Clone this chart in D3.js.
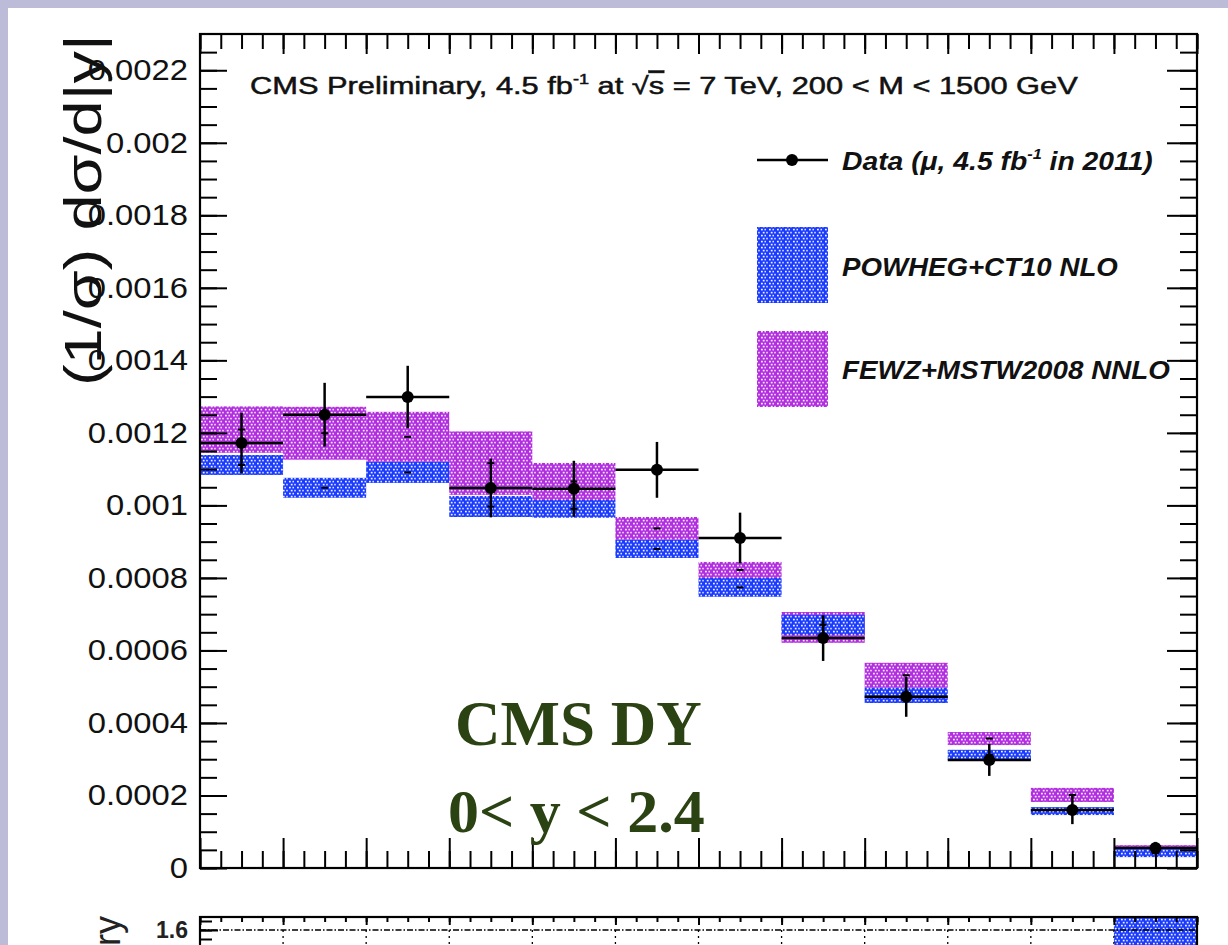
<!DOCTYPE html>
<html>
<head>
<meta charset="utf-8">
<title>CMS DY normalised rapidity distribution</title>
<script src="https://d3js.org/d3.v7.min.js"></script>
<style>
  body { margin: 0; background: #bcbcd8; }
  svg { display: block; }
</style>
</head>
<body>
<div id="chart"></div>
<script>
// bins in |y|
var binEdges = [0, 0.2, 0.4, 0.6, 0.8, 1.0, 1.2, 1.4, 1.6, 1.8, 2.0, 2.2, 2.4];

// data (muons, 4.5 fb-1)
var dataVal = [0.001172, 0.00125, 0.001299, 0.001048, 0.001046, 0.001098, 0.00091, 0.000634, 0.000472, 0.000298, 0.00016, 0.000055];
var dataErr = [0.000083, 0.000088, 0.000086, 0.000081, 0.000077, 0.000077, 0.00007, 0.000063, 0.000055, 0.000044, 0.000039, 0.000017];

// FEWZ+MSTW2008 NNLO band
var fewzHigh = [0.001273, 0.001272, 0.001258, 0.001204, 0.001117, 0.000968, 0.000844, 0.000706, 0.000566, 0.000375, 0.000221, 0.000063];
var fewzLow  = [0.001145, 0.001126, 0.00112, 0.001029, 0.001015, 0.000905, 0.0008, 0.000621, 0.000497, 0.000339, 0.000182, 0.000052];

// POWHEG+CT10 NLO band
var powhegHigh = [0.001139, 0.001076, 0.00112, 0.001026, 0.001015, 0.000905, 0.0008, 0.000698, 0.000497, 0.000326, 0.000168, 0.000052];
var powhegLow  = [0.001084, 0.001021, 0.001062, 0.000968, 0.000966, 0.000855, 0.000748, 0.000643, 0.000455, 0.000298, 0.000146, 0.00003];

var yTicks = [0, 0.0002, 0.0004, 0.0006, 0.0008, 0.001, 0.0012, 0.0014, 0.0016, 0.0018, 0.002, 0.0022];
var yTickLabels = ["0", "0.0002", "0.0004", "0.0006", "0.0008", "0.001", "0.0012", "0.0014", "0.0016", "0.0018", "0.002", "0.0022"];

// ratio panel (only its top edge is in view)
var ratioTicks = [1.6];
var ratioTickLabels = ["1.6"];
var ratioBin = [11];
var ratioLow = [1.2];
var ratioHigh = [2.0];

var BLUE = "#1b3bff", PURPLE = "#b22fe0", GREEN = "#2b4212";
var SANS = "'Liberation Sans', Arial, sans-serif";
var SERIF = "'Liberation Serif', 'Times New Roman', serif";

var width = 1228, height = 945;
var svg = d3.select("#chart").append("svg")
    .attr("width", width)
    .attr("height", height)
    .style("font-family", SANS);

// dotted fills, roughly like the ROOT 3xxx styles
var defs = svg.append("defs");
function makePattern(id, color) {
  var p = defs.append("pattern").attr("id", id)
      .attr("patternUnits", "userSpaceOnUse")
      .attr("width", 8).attr("height", 6);
  p.append("rect").attr("width", 8).attr("height", 6).attr("fill", color);
  [[1, 0.8], [4.5, 0.8], [2.8, 3.8], [6.3, 3.8]].forEach(function(c, k) {
    p.append("rect").attr("x", c[0]).attr("y", c[1])
        .attr("width", k % 2 ? 1.4 : 1.8).attr("height", 1.6)
        .attr("fill", "#fff").attr("opacity", 0.95);
  });
}
makePattern("patBlue", BLUE);
makePattern("patPurple", PURPLE);

svg.append("rect").attr("x", 8).attr("y", 8)
    .attr("width", width - 8).attr("height", height - 8)
    .attr("fill", "#fff");

var x = d3.scaleLinear().domain([0, 2.4]).range([200, 1197]);
var y = d3.scaleLinear().domain([0, 0.0023]).range([868, 34]);

function fitText(sel, w) {
  var len = sel.node().getComputedTextLength();
  var tx = +sel.attr("x"), ty = +sel.attr("y");
  sel.attr("x", 0).attr("y", 0)
     .attr("transform", "translate(" + tx + "," + ty + ") scale(" + (w / len) + ",1)");
}

function ticks(g, axisFn, scale, values, size) {
  g.call(axisFn(scale).tickValues(values).tickSizeInner(-size).tickSizeOuter(0).tickFormat(""));
  g.select(".domain").remove();
  g.selectAll("line").attr("stroke", "#000").attr("stroke-width", 2);
}

var minorX = d3.range(0, 2.4001, 0.05);
var minorY = d3.range(0, 0.00229, 0.00005);

// ---- theory bands
var bands = svg.append("g");
function drawBand(low, high, pat) {
  bands.selectAll(null).data(binEdges.slice(0, -1)).enter().append("rect")
      .attr("x", function(d) { return x(d); })
      .attr("width", function(d, i) { return x(binEdges[i + 1]) - x(d); })
      .attr("y", function(d, i) { return y(high[i]); })
      .attr("height", function(d, i) { return y(low[i]) - y(high[i]); })
      .attr("fill", "url(#" + pat + ")");
  // central value marks
  bands.selectAll(null).data(binEdges.slice(0, -1)).enter().append("rect")
      .attr("x", function(d, i) { return x((d + binEdges[i + 1]) / 2) - 3.5; })
      .attr("width", 7)
      .attr("y", function(d, i) { return y((low[i] + high[i]) / 2) - 1; })
      .attr("height", 2)
      .attr("fill", "#000");
}
drawBand(fewzLow, fewzHigh, "patPurple");
drawBand(powhegLow, powhegHigh, "patBlue");

// ---- data points
var pts = svg.append("g").selectAll("g").data(dataVal).enter().append("g");
pts.append("line")
    .attr("x1", function(d, i) { return x(binEdges[i]); })
    .attr("x2", function(d, i) { return x(binEdges[i + 1]); })
    .attr("y1", function(d) { return y(d); })
    .attr("y2", function(d) { return y(d); })
    .attr("stroke", "#000").attr("stroke-width", 2.5);
pts.append("line")
    .attr("x1", function(d, i) { return x((binEdges[i] + binEdges[i + 1]) / 2); })
    .attr("x2", function(d, i) { return x((binEdges[i] + binEdges[i + 1]) / 2); })
    .attr("y1", function(d, i) { return y(d + dataErr[i]); })
    .attr("y2", function(d, i) { return y(d - dataErr[i]); })
    .attr("stroke", "#000").attr("stroke-width", 2.5);
pts.append("circle")
    .attr("cx", function(d, i) { return x((binEdges[i] + binEdges[i + 1]) / 2); })
    .attr("cy", function(d) { return y(d); })
    .attr("r", 6).attr("fill", "#000");

// ---- axes / frame
ticks(svg.append("g").attr("transform", "translate(0,868)"), d3.axisBottom, x, minorX, 17);
ticks(svg.append("g").attr("transform", "translate(0,868)"), d3.axisBottom, x, binEdges, 30);
ticks(svg.append("g").attr("transform", "translate(0,34)"), d3.axisTop, x, minorX, 15);
ticks(svg.append("g").attr("transform", "translate(0,34)"), d3.axisTop, x, binEdges, 20);
ticks(svg.append("g").attr("transform", "translate(200,0)"), d3.axisLeft, y, minorY, 17);
ticks(svg.append("g").attr("transform", "translate(200,0)"), d3.axisLeft, y, yTicks, 27);
ticks(svg.append("g").attr("transform", "translate(1197,0)"), d3.axisRight, y, minorY, 17);
ticks(svg.append("g").attr("transform", "translate(1197,0)"), d3.axisRight, y, yTicks, 30);

var yLab = svg.append("g").attr("transform", "translate(200,0)")
    .call(d3.axisLeft(y).tickValues(yTicks).tickSize(0).tickPadding(12)
      .tickFormat(function(d, i) { return yTickLabels[i]; }));
yLab.select(".domain").remove();
yLab.selectAll("text")
    .attr("x", -12 / 1.13)
    .attr("transform", "scale(1.13,1)")
    .style("font-family", SANS)
    .attr("font-size", 29).attr("fill", "#111");

svg.append("rect").attr("x", 200).attr("y", 34)
    .attr("width", 997).attr("height", 834)
    .attr("fill", "none").attr("stroke", "#000").attr("stroke-width", 2.2);

// y axis title
var yt = svg.append("text").attr("x", 0).attr("y", 0)
    .attr("font-size", 52).attr("fill", "#111")
    .text("(1/\u03c3) d\u03c3/d|y|");
var ytLen = yt.node().getComputedTextLength();
yt.attr("transform", "translate(101,386) rotate(-90) scale(" + (352 / ytLen) + ",1)");

// header text
var head = svg.append("text").attr("x", 250).attr("y", 94)
    .attr("font-size", 24).attr("fill", "#111")
    .attr("stroke", "#111").attr("stroke-width", 0.5);
head.append("tspan").text("CMS Preliminary, 4.5 fb");
head.append("tspan").attr("font-size", 14).attr("dy", -10).text("-1");
head.append("tspan").attr("dy", 10).text(" at \u221a");
head.append("tspan").attr("text-decoration", "overline").text("s");
head.append("tspan").text(" = 7 TeV, 200 < M < 1500 GeV");
fitText(head, 828);

// ---- legend
svg.append("line").attr("x1", 757).attr("x2", 828).attr("y1", 160).attr("y2", 160)
    .attr("stroke", "#000").attr("stroke-width", 2.5);
svg.append("circle").attr("cx", 792).attr("cy", 160).attr("r", 6).attr("fill", "#000");
svg.append("rect").attr("x", 757).attr("y", 227).attr("width", 71).attr("height", 76)
    .attr("fill", "url(#patBlue)");
svg.append("rect").attr("x", 757).attr("y", 331).attr("width", 71).attr("height", 76)
    .attr("fill", "url(#patPurple)");

function legendText(yy) {
  return svg.append("text").attr("x", 842).attr("y", yy)
      .attr("font-size", 26).attr("font-style", "italic").attr("font-weight", "bold")
      .attr("fill", "#111");
}
var l1 = legendText(170);
l1.append("tspan").text("Data (\u03bc, 4.5 fb");
l1.append("tspan").attr("font-size", 15).attr("dy", -11).text("-1");
l1.append("tspan").attr("dy", 11).text(" in 2011)");
fitText(l1, 311);
var l2 = legendText(276).text("POWHEG+CT10 NLO");
fitText(l2, 276);
var l3 = legendText(379).text("FEWZ+MSTW2008 NNLO");
fitText(l3, 328);

// ---- annotation
svg.append("text").attr("x", 455).attr("y", 745)
    .style("font-family", SERIF)
    .attr("font-size", 63).attr("font-weight", "bold").attr("fill", GREEN)
    .text("CMS DY");
svg.append("text").attr("x", 448).attr("y", 832)
    .style("font-family", SERIF)
    .attr("font-size", 62).attr("font-weight", "bold").attr("fill", GREEN)
    .text("0< y < 2.4");

// ---- ratio panel
var y2 = d3.scaleLinear().domain([1.0, 1.6]).range([1038, 930]);
var rp = svg.append("g");
rp.append("clipPath").attr("id", "clipR").append("rect")
    .attr("x", 200).attr("y", 917).attr("width", 997).attr("height", 200);
var rc = rp.append("g").attr("clip-path", "url(#clipR)");
rc.selectAll(null).data(ratioBin).enter().append("rect")
    .attr("x", function(d) { return x(binEdges[d]); })
    .attr("width", function(d) { return x(binEdges[d + 1]) - x(binEdges[d]); })
    .attr("y", function(d, i) { return y2(ratioHigh[i]); })
    .attr("height", function(d, i) { return y2(ratioLow[i]) - y2(ratioHigh[i]); })
    .attr("fill", "url(#patBlue)");
rc.append("line").attr("x1", 200).attr("x2", 1197)
    .attr("y1", y2(1.6)).attr("y2", y2(1.6))
    .attr("stroke", "#000").attr("stroke-width", 1.6).attr("stroke-dasharray", "6,2,1.5,2");
rc.selectAll(null).data(binEdges.slice(1, -1)).enter().append("line")
    .attr("x1", function(d) { return x(d); }).attr("x2", function(d) { return x(d); })
    .attr("y1", y2(1.6)).attr("y2", 1117)
    .attr("stroke", "#000").attr("stroke-width", 1.3).attr("stroke-dasharray", "2,4");

ticks(rp.append("g").attr("transform", "translate(0,917)"), d3.axisTop, x, minorX, 5);
ticks(rp.append("g").attr("transform", "translate(0,917)"), d3.axisTop, x, binEdges, 8);
ticks(rp.append("g").attr("transform", "translate(200,0)"), d3.axisLeft, y2, d3.range(1.5, 1.66, 0.05), 12);
ticks(rp.append("g").attr("transform", "translate(200,0)"), d3.axisLeft, y2, ratioTicks, 18);
var rLab = rp.append("g").attr("transform", "translate(200,0)")
    .call(d3.axisLeft(y2).tickValues(ratioTicks).tickSize(0).tickPadding(12)
      .tickFormat(function(d, i) { return ratioTickLabels[i]; }));
rLab.select(".domain").remove();
rLab.selectAll("text").attr("font-size", 23).attr("font-weight", "bold")
    .style("font-family", SANS).attr("fill", "#222");
rp.append("rect").attr("x", 200).attr("y", 917)
    .attr("width", 997).attr("height", 200)
    .attr("fill", "none").attr("stroke", "#000").attr("stroke-width", 2.2);
rp.append("text").attr("transform", "translate(120,916) rotate(-90)")
    .attr("text-anchor", "end").attr("font-size", 36).attr("fill", "#222")
    .text("Theory");
</script>
</body>
</html>
